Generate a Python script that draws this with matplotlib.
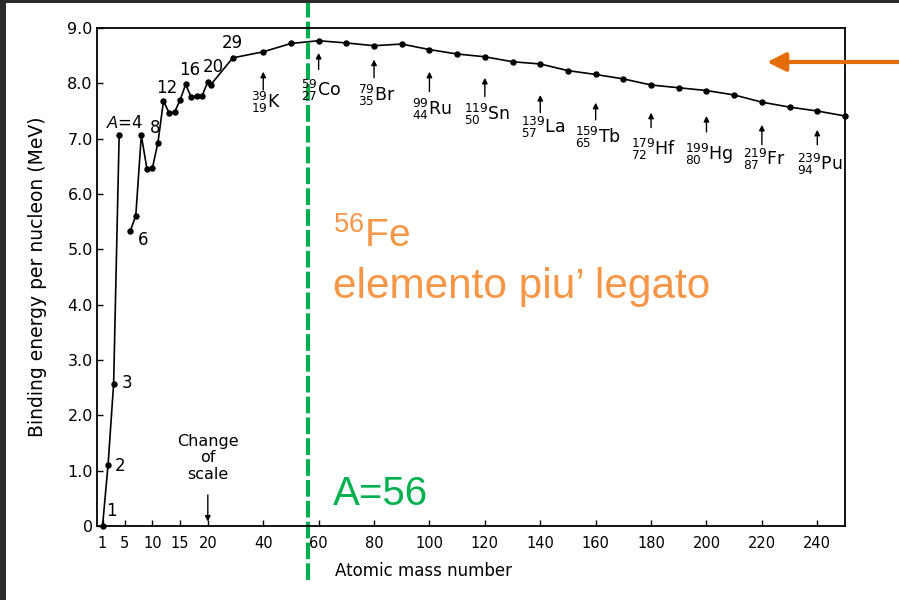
import numpy as np
import matplotlib
matplotlib.use("Agg")
import matplotlib.pyplot as plt
from matplotlib.patches import Rectangle

plt.rcParams["font.family"] = ["DejaVu Sans"]
plt.rcParams["mathtext.fontset"] = "custom"
plt.rcParams["mathtext.rm"] = "Liberation Sans"
plt.rcParams["mathtext.it"] = "Liberation Sans:italic"

# binding energy per nucleon (MeV)
light_A = [1, 2, 3, 4]
light_be = [0.0, 1.11, 2.57, 7.07]

mass_A = [6, 7, 8, 9, 10, 11, 12, 13, 14, 15, 16, 17, 18, 19, 20, 21, 29,
          40, 50, 60, 70, 80, 90, 100, 110, 120, 130, 140, 150, 160, 170,
          180, 190, 200, 210, 220, 230, 240, 250]
mass_be = [5.33, 5.61, 7.06, 6.46, 6.47, 6.93, 7.68, 7.47, 7.48, 7.70, 7.98,
           7.75, 7.77, 7.78, 8.03, 7.97, 8.46,
           8.57, 8.72, 8.77, 8.73, 8.68, 8.71, 8.61, 8.53, 8.48, 8.39, 8.35,
           8.23, 8.16, 8.08, 7.97, 7.92, 7.87, 7.79, 7.66, 7.57, 7.50, 7.41]

# labels along the curve: text, A, energy
curve_labels = [("1", 2.6, 0.27), ("2", 4.2, 1.08), ("3", 5.4, 2.59),
                ("$A$=4", 4.95, 7.29), ("6", 8.3, 5.17), ("8", 10.5, 7.2),
                ("12", 12.6, 7.92), ("16", 16.8, 8.25), ("20", 21.9, 8.3),
                ("29", 28.7, 8.73)]

# marked nuclides: symbol, mass number, Z, arrow tip, arrow base, label y
nuclides = [("K", 39, 19, 8.21, 7.88, 7.65),
            ("Co", 59, 27, 8.55, 8.25, 7.88),
            ("Br", 79, 35, 8.43, 8.10, 7.79),
            ("Ru", 99, 44, 8.21, 7.85, 7.52),
            ("Sn", 119, 50, 8.10, 7.76, 7.43),
            ("La", 139, 57, 7.79, 7.47, 7.20),
            ("Tb", 159, 65, 7.65, 7.34, 7.02),
            ("Hf", 179, 72, 7.47, 7.20, 6.80),
            ("Hg", 199, 80, 7.41, 7.12, 6.71),
            ("Fr", 219, 87, 7.25, 6.89, 6.62),
            ("Pu", 239, 94, 7.16, 6.89, 6.53)]

x_ticks = [1, 5, 10, 15, 20, 40, 60, 80, 100, 120, 140, 160, 180, 200, 220, 240]
y_ticks = [0, 1, 2, 3, 4, 5, 6, 7, 8, 9]
y_ticklabels = ["0", "1.0", "2.0", "3.0", "4.0", "5.0", "6.0", "7.0", "8.0", "9.0"]

A_fe = 56


# axis is stretched by 2 below A=20
def fwd(a):
    a = np.asarray(a, dtype=float)
    return np.where(a <= 20, 2 * a, a + 20)


def inv(u):
    u = np.asarray(u, dtype=float)
    return np.where(u <= 40, u / 2, u - 20)


fig = plt.figure(figsize=(8.99, 6), dpi=100)
ax = fig.add_axes([97 / 899, 1 - 526 / 600, 748 / 899, 498 / 600])
ax.set_xscale("function", functions=(fwd, inv))
ax.set_xlim(0, 250)
ax.set_ylim(0, 9)

ax.plot(light_A, light_be, "-o", color="black", lw=1.2, ms=3.6, clip_on=False)
ax.plot(mass_A, mass_be, "-o", color="black", lw=1.2, ms=3.6, clip_on=False)

for txt, a, e in curve_labels:
    ax.text(a, e, txt, fontsize=12, ha="center", va="center")

for sym, m, z, tip, base, ly in nuclides:
    ax.annotate("", xy=(m + 1, tip), xytext=(m + 1, base),
                arrowprops=dict(arrowstyle="-|>", color="black", lw=1,
                                mutation_scale=8, shrinkA=0, shrinkB=0))
    ax.text(m + 2, ly, r"$^{%d}_{%d}$%s" % (m, z, sym), fontsize=12.5,
            ha="center", va="center", math_fontfamily="dejavusans")

ax.text(20, 1.23, "Change\nof\nscale", fontsize=11.5, ha="center",
        va="center", linespacing=1.1)
ax.annotate("", xy=(20, 0.08), xytext=(20, 0.56),
            arrowprops=dict(arrowstyle="-|>", color="black", lw=1,
                            mutation_scale=8, shrinkA=0, shrinkB=0))

ax.set_xticks(x_ticks)
ax.set_xticklabels([str(t) for t in x_ticks])
ax.set_yticks(y_ticks)
ax.set_yticklabels(y_ticklabels)
ax.minorticks_off()
ax.tick_params(direction="in", length=4, width=1)
ax.tick_params(axis="x", labelsize=10.5, pad=7)
ax.tick_params(axis="y", labelsize=11.5, pad=3)
for s in ax.spines.values():
    s.set_linewidth(1.3)

ax.set_xlabel("Atomic mass number", fontsize=12)
ax.xaxis.set_label_coords(0.437, -0.072)
ax.set_ylabel("Binding energy per nucleon (MeV)", fontsize=13.5)
ax.yaxis.set_label_coords(-0.067, 0.5)

# most bound nucleus
ax.axvline(A_fe, ymin=-0.108, ymax=1.05, color="#00B050", lw=3,
           linestyle=(0, (4, 1)), clip_on=False)
fig.text(333 / 899, 1 - 505 / 600, "A=56", color="#00B050", fontsize=29,
         family="Liberation Sans", va="baseline")
fig.text(333 / 899, 1 - 247 / 600, r"$^{56}$Fe", color="#F79646",
         fontsize=28, family="Liberation Sans", va="baseline",
         math_fontfamily="custom")
fig.text(333 / 899, 1 - 298 / 600, "elemento piu\u2019 legato",
         color="#F79646", fontsize=30.5, family="Liberation Sans",
         va="baseline")

ax.annotate("", xy=(767 / 899, 1 - 62 / 600), xytext=(1.0, 1 - 62 / 600),
            xycoords="figure fraction", textcoords="figure fraction",
            arrowprops=dict(arrowstyle="-|>,head_length=0.7,head_width=0.35",
                            color="#E46C0A", lw=3, mutation_scale=16,
                            shrinkA=0, shrinkB=0))

# dark frame at top and left
fig.add_artist(Rectangle((0, 0), 6 / 899, 1, transform=fig.transFigure,
                         color="#2b2b2b", lw=0))
fig.add_artist(Rectangle((0, 1 - 3 / 600), 1, 3 / 600,
                         transform=fig.transFigure, color="#2b2b2b", lw=0))

fig.savefig("out.png", dpi=100)
